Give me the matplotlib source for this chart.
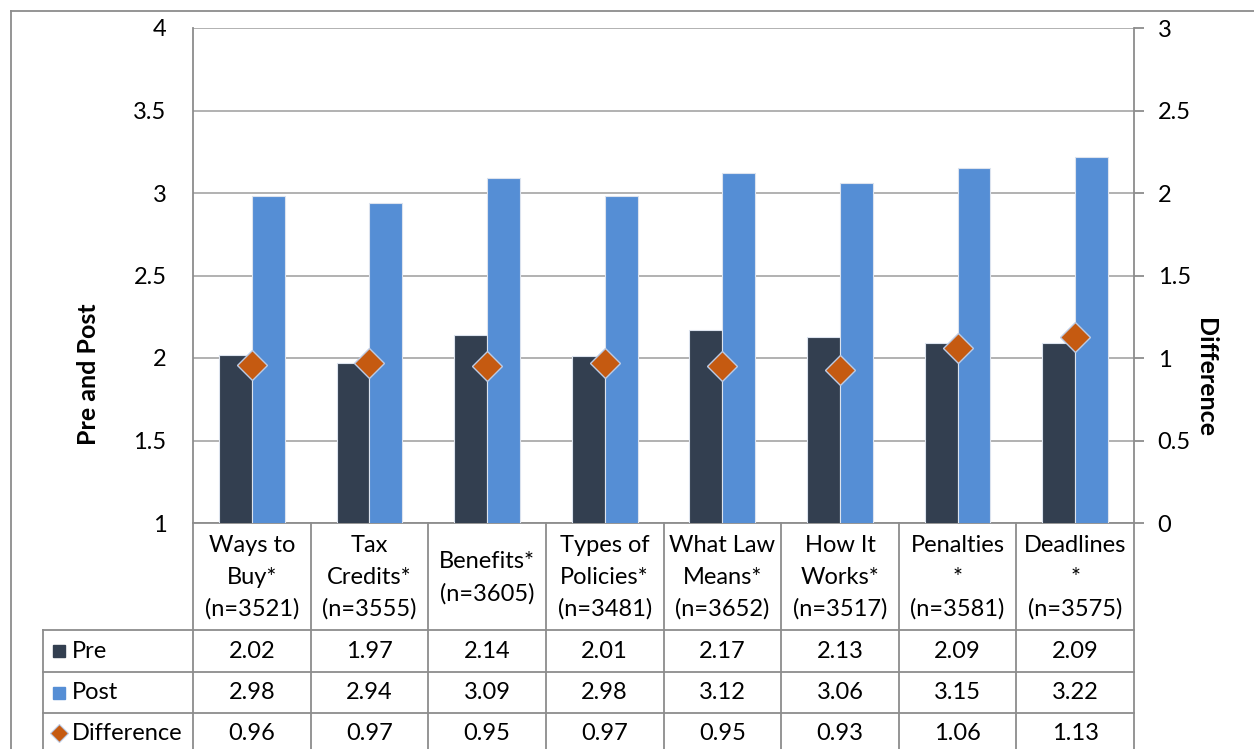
import matplotlib
matplotlib.use("Agg")
import matplotlib.pyplot as plt
from matplotlib.lines import Line2D
from matplotlib.patches import Rectangle

plt.rcParams['font.family'] = ['Lato', 'DejaVu Sans']

categories = ["Ways to\nBuy*\n(n=3521)", "Tax\nCredits*\n(n=3555)", "Benefits*\n(n=3605)",
              "Types of\nPolicies*\n(n=3481)", "What Law\nMeans*\n(n=3652)", "How It\nWorks*\n(n=3517)",
              "Penalties\n*\n(n=3581)", "Deadlines\n*\n(n=3575)"]
pre = [2.02, 1.97, 2.14, 2.01, 2.17, 2.13, 2.09, 2.09]
post = [2.98, 2.94, 3.09, 2.98, 3.12, 3.06, 3.15, 3.22]
difference = [0.96, 0.97, 0.95, 0.97, 0.95, 0.93, 1.06, 1.13]
series_names = ["Pre", "Post", "Difference"]

C_PRE = "#333F50"
C_POST = "#558ED5"
C_DIFF = "#C55A11"
C_GRID = "#ABABAB"
C_LINE = "#8C8C8C"
FS = 17

W, H = 1254, 749
fig = plt.figure(figsize=(W / 100, H / 100), dpi=100)

def fx(px):
    return px / W

def fy(py):
    return 1 - py / H

L, R, T, B = 193, 1134, 28, 523
ax = fig.add_axes([fx(L), fy(B), fx(R) - fx(L), fy(T) - fy(B)])
n = len(categories)
xs = list(range(n))
bw = 0.28
ax.bar([x - bw / 2 for x in xs], pre, width=bw, color=C_PRE, edgecolor="#DCE3EE", linewidth=0.8, zorder=3)
ax.bar([x + bw / 2 for x in xs], post, width=bw, color=C_POST, edgecolor="#DCE3EE", linewidth=0.8, zorder=3)
ax.set_xlim(-0.5, n - 0.5)
ax.set_ylim(1, 4)
ax.set_yticks([1, 1.5, 2, 2.5, 3, 3.5, 4])
ax.set_yticklabels(["1", "1.5", "2", "2.5", "3", "3.5", "4"], fontsize=FS)
ax.tick_params(axis="y", length=0, pad=19)
ax.set_xticks([])
ax.yaxis.grid(True, color=C_GRID, linewidth=1.3, zorder=0)
ax.set_axisbelow(True)
for s in ["top", "right"]:
    ax.spines[s].set_visible(False)
ax.spines["left"].set_color(C_LINE)
ax.spines["left"].set_linewidth(1.3)
ax.spines["bottom"].set_color(C_LINE)
ax.spines["bottom"].set_linewidth(1.3)
ax.set_ylabel("Pre and Post", fontsize=18, fontweight="bold", va="center")
ax.yaxis.set_label_coords(fx(88), fy(374), transform=fig.transFigure)

ax2 = ax.twinx()
ax2.plot(xs, difference, linestyle="none", marker="D", markersize=15,
         markerfacecolor=C_DIFF, markeredgecolor="#BCCBE4", markeredgewidth=1.0, zorder=5)
ax2.set_ylim(0, 3)
ax2.set_yticks([0, 0.5, 1, 1.5, 2, 2.5, 3])
ax2.set_yticklabels(["0", "0.5", "1", "1.5", "2", "2.5", "3"], fontsize=FS)
ax2.tick_params(axis="y", length=7, width=1.3, color=C_LINE, pad=10, direction="out")
for s in ["top", "left", "bottom"]:
    ax2.spines[s].set_visible(False)
ax2.spines["right"].set_color(C_LINE)
ax2.spines["right"].set_linewidth(1.3)
ax2.set_ylabel("Difference", fontsize=18, fontweight="bold", rotation=-90, va="center")
ax2.yaxis.set_label_coords(fx(1205), fy(378), transform=fig.transFigure)

# data table below the plot
col_w = (R - L) / n
row_y = [B, 630, 672, 713, H + 40]

def seg(x0, y0, x1, y1):
    fig.add_artist(Line2D([fx(x0), fx(x1)], [fy(y0), fy(y1)], color=C_LINE, linewidth=1.3))

for y in row_y[1:4]:
    seg(43, y, R, y)
seg(43, 630, 43, H)
for k in range(n + 1):
    seg(L + k * col_w, B, L + k * col_w, H)

for i, lab in enumerate(categories):
    cx = L + (i + 0.5) * col_w
    fig.text(fx(cx), fy((B + 630) / 2 + 1), lab, ha="center", va="center", fontsize=FS, linespacing=1.62)

rows = [pre, post, difference]
for r, vals in enumerate(rows):
    y0, y1 = row_y[r + 1], row_y[r + 2]
    cy = (y0 + y1) / 2 if r < 2 else 733
    for i, v in enumerate(vals):
        cx = L + (i + 0.5) * col_w
        fig.text(fx(cx), fy(cy), f"{v:.2f}", ha="center", va="center", fontsize=FS)
    fig.text(fx(72), fy(cy), series_names[r], ha="left", va="center", fontsize=FS)

# legend keys in the table
for r, c in enumerate([C_PRE, C_POST]):
    cy = (row_y[r + 1] + row_y[r + 2]) / 2
    fig.add_artist(Rectangle((fx(53), fy(cy + 6)), fx(12), fy(0) - fy(12), color=c))
fig.add_artist(Line2D([fx(59)], [fy(733)], marker="D", markersize=9, markerfacecolor=C_DIFF,
                      markeredgecolor="#BCCBE4", markeredgewidth=0.8, linestyle="none"))

# outer chart frame
seg(11, 11, W + 5, 11)
seg(11, 11, 11, H + 5)

fig.savefig("out.png", dpi=100)
